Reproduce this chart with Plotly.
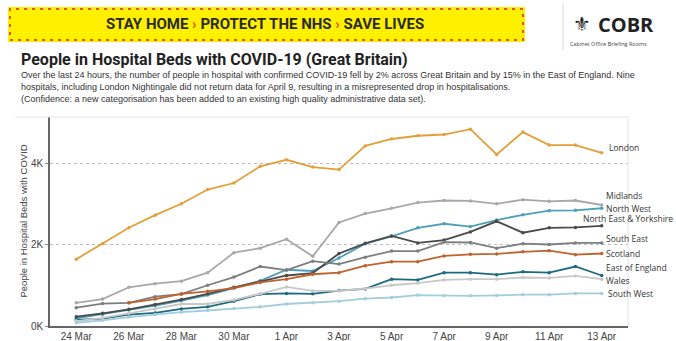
import plotly.graph_objects as go
import pandas as pd

dates = pd.date_range("2020-03-24", "2020-04-13", freq="D")

london = [1640, 2020, 2410, 2720, 3000, 3350, 3510, 3920, 4080, 3900, 3840, 4420, 4590, 4670, 4700, 4830, 4210, 4760, 4440, 4440, 4250]
midlands = [570, 660, 950, 1040, 1100, 1310, 1800, 1910, 2130, 1710, 2540, 2760, 2890, 3030, 3080, 3070, 3000, 3100, 3060, 3080, 2970]
north_west = [190, 290, 390, 500, 620, 760, 930, 1110, 1380, 1350, 1670, 2020, 2200, 2410, 2510, 2440, 2600, 2730, 2830, 2840, 2890]
ne_yorks = [230, 310, 410, 530, 650, 790, 950, 1090, 1240, 1300, 1780, 2030, 2210, 2040, 2110, 2310, 2570, 2290, 2410, 2420, 2460]
south_east = [450, 550, 570, 720, 780, 1000, 1200, 1460, 1370, 1590, 1520, 1690, 1840, 1840, 2060, 2050, 1910, 2020, 2000, 2040, 2040]
scotland = [None, None, 570, 660, 790, 850, 930, 1070, 1150, 1270, 1310, 1480, 1580, 1580, 1720, 1760, 1770, 1820, 1850, 1750, 1780]
east_england = [150, 180, 280, 320, 420, 470, 610, 780, 800, 790, 870, 910, 1150, 1130, 1310, 1310, 1260, 1330, 1310, 1460, 1240]
wales = [120, 200, 310, 420, 540, 540, 640, 790, 960, 860, 860, 920, 1000, 1050, 1130, 1150, 1150, 1190, 1180, 1230, 1150]
south_west = [80, 140, 220, 280, 340, 380, 430, 470, 540, 570, 610, 670, 700, 760, 750, 740, 750, 770, 770, 800, 800]

series_names = ["London", "Midlands", "North West", "North East & Yorkshire", "South East",
                "Scotland", "East of England", "Wales", "South West"]
series_values = [london, midlands, north_west, ne_yorks, south_east, scotland, east_england, wales, south_west]
colors = ["#E3A03A", "#A8A8A8", "#4E9FB9", "#4A4A4A", "#7E7E7E", "#C0622E", "#1D6A80", "#C8C8C8", "#A3CDDE"]
label_shift = [(5, 5), (2, 10), (2, 0), (None, 7), (2, 4), (2, 0), (2, 8), (2, -1), (4, 0)]

tick_vals = [0, 2000, 4000]
tick_text = ["0K", "2K", "4K"]

title = "People in Hospital Beds with COVID-19 (Great Britain)"
subtitle = [
    "Over the last 24 hours, the number of people in hospital with confirmed COVID-19 fell by 2% across Great Britain and by 15% in the East of England. Nine",
    "hospitals, including London Nightingale did not return data for April 9, resulting in a misrepresented drop in hospitalisations.",
    "(Confidence: a new categorisation has been added to an existing high quality administrative data set).",
]

W, H = 676, 341
L, R, T, B = 50, 48, 117, 15
PW, PH = W - L - R, H - T - B

def px(x):
    return (x - L) / PW

def py(y):
    return (H - B - y) / PH

fig = go.Figure()
for name, vals, col in zip(series_names, series_values, colors):
    fig.add_trace(go.Scatter(
        x=dates, y=vals, name=name, mode="lines+markers",
        line=dict(color=col, width=1.8), marker=dict(size=3.5, color=col),
        connectgaps=False, showlegend=False,
    ))

label_font = dict(family="Open Sans, sans-serif", size=8.5, color="#333333")
annotations = []
for name, vals, col, (xs, ys) in zip(series_names, series_values, colors, label_shift):
    if xs is None:
        annotations.append(dict(
            x=px(675), y=vals[-1], xref="paper", yref="y", text=name, showarrow=False,
            xanchor="right", yanchor="middle", yshift=ys, font=label_font,
        ))
    else:
        annotations.append(dict(
            x=dates[-1], y=vals[-1], xref="x", yref="y", text=name, showarrow=False,
            xanchor="left", yanchor="middle", xshift=xs, yshift=ys, font=label_font,
        ))

# Banner text
annotations.append(dict(
    x=px(265), y=py(24), xref="paper", yref="paper", showarrow=False,
    xanchor="center", yanchor="middle",
    text="<b>STAY HOME <span style='color:#E4542A'>›</span> PROTECT THE NHS <span style='color:#E4542A'>›</span> SAVE LIVES</b>",
    font=dict(family="Roboto, sans-serif", size=15, color="#2a2a2a"),
))
# COBR block
annotations.append(dict(
    x=px(582), y=py(24), xref="paper", yref="paper", showarrow=False,
    xanchor="center", yanchor="middle", text="⚜",
    font=dict(family="DejaVu Sans", size=20, color="#222222"),
))
annotations.append(dict(
    x=px(596), y=py(24), xref="paper", yref="paper", showarrow=False,
    xanchor="left", yanchor="middle", text="<b>COBR</b>",
    font=dict(family="Open Sans, sans-serif", size=20, color="#222222"),
))
annotations.append(dict(
    x=px(608), y=py(44), xref="paper", yref="paper", showarrow=False,
    xanchor="center", yanchor="middle", text="Cabinet Office Briefing Rooms",
    font=dict(family="Open Sans, sans-serif", size=5.5, color="#444444"),
))
# Title and subtitle
annotations.append(dict(
    x=px(19), y=py(59), xref="paper", yref="paper", showarrow=False,
    xanchor="left", yanchor="middle", text="<b>" + title + "</b>",
    font=dict(family="Roboto, sans-serif", size=16, color="#222222"),
))
for i, line in enumerate(subtitle):
    annotations.append(dict(
        x=px(19), y=py(75 + 12 * i), xref="paper", yref="paper", showarrow=False,
        xanchor="left", yanchor="middle", text=line,
        font=dict(family="Liberation Sans, Arial, sans-serif", size=9, color="#333333"),
    ))
# Y-axis title
annotations.append(dict(
    x=px(23), y=0.5, xref="paper", yref="paper", showarrow=False, textangle=-90,
    xanchor="center", yanchor="middle", text="People in Hospital Beds with COVID",
    font=dict(family="Liberation Sans, Arial, sans-serif", size=9.5, color="#444444"),
))

shapes = [
    dict(type="rect", xref="paper", yref="paper", x0=px(8), x1=px(525), y0=py(42), y1=py(7),
         fillcolor="#FFF000", line=dict(width=0), layer="below"),
    dict(type="rect", xref="paper", yref="paper", x0=px(10), x1=px(523), y0=py(40), y1=py(9),
         fillcolor="rgba(0,0,0,0)", line=dict(color="#E4542A", width=2, dash="3px,5px")),
    dict(type="line", xref="paper", yref="paper", x0=px(563), x1=px(563), y0=py(3), y1=py(50),
         line=dict(color="#d8d8d8", width=1)),
    dict(type="line", xref="paper", yref="paper", x0=px(15), x1=1.0, y0=1.0, y1=1.0,
         line=dict(color="#e4e4e4", width=1)),
    dict(type="line", xref="paper", yref="paper", x0=1.0, x1=1.0, y0=0, y1=1.0,
         line=dict(color="#e4e4e4", width=1)),
]

fig.update_layout(
    width=W, height=H,
    margin=dict(l=L, r=R, t=T, b=B, pad=0),
    paper_bgcolor="white", plot_bgcolor="white",
    annotations=annotations, shapes=shapes,
    font=dict(family="Liberation Sans, Arial, sans-serif", size=10, color="#444444"),
    xaxis=dict(
        range=[pd.Timestamp("2020-03-23"), pd.Timestamp("2020-04-14")],
        tickvals=dates[::2], tickformat="%-d %b",
        showgrid=False, showline=True, linecolor="#666666", linewidth=1.5,
        ticks="", ticklabelstandoff=0,
        tickfont=dict(family="Liberation Sans, Arial, sans-serif", size=10, color="#444444"),
        automargin=False, zeroline=False,
    ),
    yaxis=dict(
        range=[0, 5130], tickvals=tick_vals, ticktext=tick_text,
        showgrid=True, gridcolor="#bbbbbb", griddash="dot", gridwidth=1,
        showline=True, linecolor="#666666", linewidth=1.5,
        ticks="outside", ticklen=3, tickcolor="#888888",
        tickfont=dict(family="Liberation Sans, Arial, sans-serif", size=10, color="#444444"),
        automargin=False, zeroline=False,
    ),
)

fig.write_html("out.html")
